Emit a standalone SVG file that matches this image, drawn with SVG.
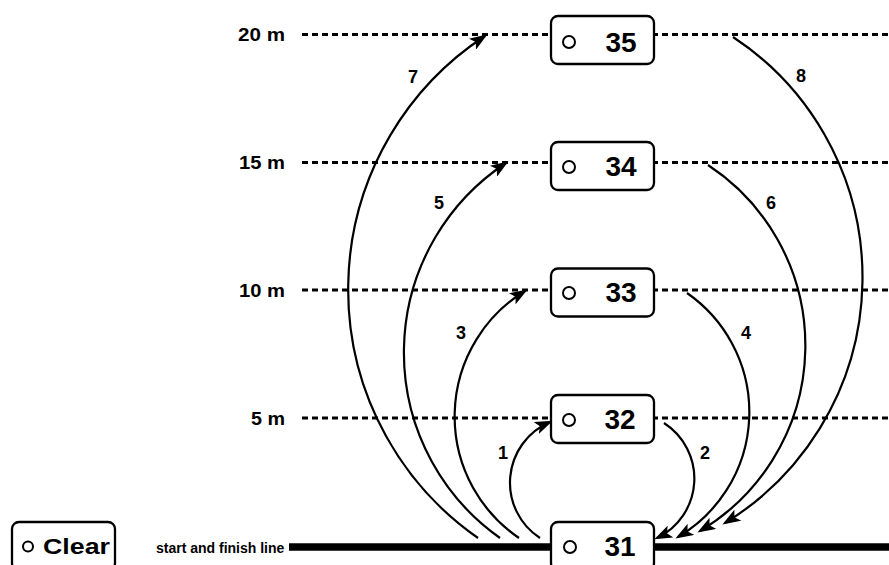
<svg xmlns="http://www.w3.org/2000/svg" width="889" height="565" viewBox="0 0 889 565">
<style>
text{font-family:"Liberation Sans",Arial,Helvetica,sans-serif;font-weight:bold;fill:#000}
.dist{font-size:19px;text-anchor:end}
.num{font-size:18px;text-anchor:middle}
.val{font-size:28px;text-anchor:middle}
.box{fill:#fff;stroke:#000;stroke-width:2.3}
.dot{fill:#fff;stroke:#000;stroke-width:2}
.dash{stroke:#000;stroke-width:3;stroke-dasharray:6 4;fill:none}
.arc{fill:none;stroke:#000;stroke-width:2.2;marker-end:url(#ah)}
</style>
<defs>
<marker id="ah" markerUnits="userSpaceOnUse" markerWidth="18" markerHeight="13" viewBox="0 0 18 13" refX="15" refY="6.5" orient="auto">
<path d="M0,0 L18,6.5 L0,13 L4,6.5 z" fill="#000"/>
</marker>
</defs>
<rect width="889" height="565" fill="#fff"/>

<g id="levels">
<text class="dist" x="285" y="41" textLength="47" lengthAdjust="spacingAndGlyphs">20 m</text>
<text class="dist" x="285" y="169" textLength="46" lengthAdjust="spacingAndGlyphs">15 m</text>
<text class="dist" x="285" y="297" textLength="46" lengthAdjust="spacingAndGlyphs">10 m</text>
<text class="dist" x="285" y="425" textLength="34" lengthAdjust="spacingAndGlyphs">5 m</text>
<line class="dash" x1="302" y1="34.5" x2="889" y2="34.5"/>
<line class="dash" x1="302" y1="162.5" x2="889" y2="162.5"/>
<line class="dash" x1="302" y1="290" x2="889" y2="290"/>
<line class="dash" x1="302" y1="418" x2="889" y2="418"/>
<text x="156" y="553" style="font-size:14px">start and finish line</text>
<line x1="289" y1="547" x2="889" y2="547" stroke="#000" stroke-width="7.5"/>
</g>

<g id="connectors">
<path id="c1" class="arc" d="M540,538 A66,66 0 0 1 550,422"/>
<path id="c2" class="arc" d="M664,423 A66,66 0 0 1 657,538"/>
<path id="c3" class="arc" d="M519,538 A147,147 0 0 1 525,291"/>
<path id="c4" class="arc" d="M687,293 A145,145 0 0 1 678,537"/>
<path id="c5" class="arc" d="M500,538 A227,227 0 0 1 506,163"/>
<path id="c6" class="arc" d="M708,165 A216,216 0 0 1 700,531"/>
<path id="c7" class="arc" d="M478,538 A303,303 0 0 1 485,36"/>
<path id="c8" class="arc" d="M733,37 A288,288 0 0 1 725,523"/>
<text class="num" x="503" y="459">1</text>
<text class="num" x="705" y="459">2</text>
<text class="num" x="461" y="339">3</text>
<text class="num" x="746" y="339">4</text>
<text class="num" x="439" y="209">5</text>
<text class="num" x="771" y="209">6</text>
<text class="num" x="413" y="83">7</text>
<text class="num" x="801" y="82">8</text>
</g>

<g id="n35">
<rect class="box" x="551" y="16" width="103" height="48" rx="7"/>
<circle class="dot" cx="569" cy="42" r="6"/>
<text class="val" x="621" y="52">35</text>
</g>
<g id="n34">
<rect class="box" x="551" y="142" width="103" height="48" rx="7"/>
<circle class="dot" cx="569" cy="167" r="6"/>
<text class="val" x="621" y="176">34</text>
</g>
<g id="n33">
<rect class="box" x="551" y="268.5" width="103" height="48" rx="7"/>
<circle class="dot" cx="569" cy="293" r="6"/>
<text class="val" x="621" y="302">33</text>
</g>
<g id="n32">
<rect class="box" x="551" y="395" width="103" height="48" rx="7"/>
<circle class="dot" cx="569" cy="420" r="6"/>
<text class="val" x="620" y="429">32</text>
</g>
<g id="n31">
<rect class="box" x="551" y="522" width="103" height="48" rx="7"/>
<circle class="dot" cx="570" cy="547" r="6"/>
<text class="val" x="620" y="556">31</text>
</g>

<g id="clear">
<rect class="box" x="12" y="522" width="103" height="48" rx="7"/>
<circle class="dot" cx="28" cy="546.5" r="5"/>
<text x="43" y="554" style="font-size:22px" textLength="67" lengthAdjust="spacingAndGlyphs">Clear</text>
</g>
</svg>
